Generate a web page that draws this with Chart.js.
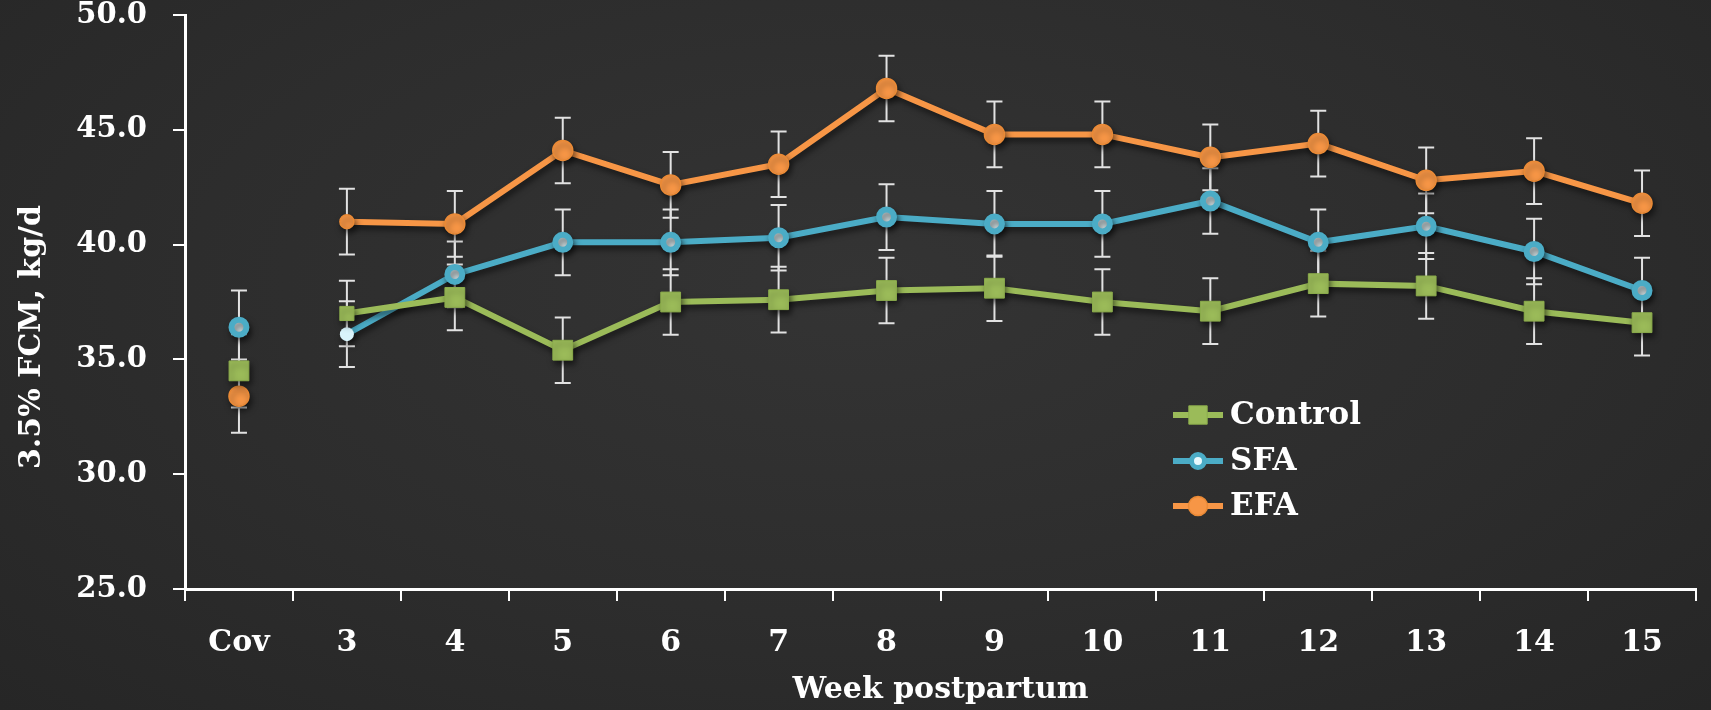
<!DOCTYPE html>
<html>
<head>
<meta charset="utf-8">
<title>3.5% FCM by week postpartum</title>
<script src="https://cdn.jsdelivr.net/npm/chart.js@4.4.1/dist/chart.umd.min.js"></script>
<style>
    html, body { margin: 0; padding: 0; }
    body {
        width: 1711px;
        height: 710px;
        overflow: hidden;
        background: radial-gradient(ellipse at 50% 40%, #343434 0%, #2d2d2d 55%, #262626 100%);
    }
    #wrap { position: relative; width: 1711px; height: 710px; }
</style>
</head>
<body>
<div id="wrap"><canvas id="fcmChart" width="1711" height="710"></canvas></div>
<script>
// ==================== Data ====================
const weeks = ['Cov', '3', '4', '5', '6', '7', '8', '9', '10', '11', '12', '13', '14', '15'];

const controlValues = [34.5, 37.0, 37.7, 35.4, 37.5, 37.6, 38.0, 38.1, 37.5, 37.1, 38.3, 38.2, 37.1, 36.6];
const sfaValues     = [36.4, 36.1, 38.7, 40.1, 40.1, 40.3, 41.2, 40.9, 40.9, 41.9, 40.1, 40.8, 39.7, 38.0];
const efaValues     = [33.4, 41.0, 40.9, 44.1, 42.6, 43.5, 46.8, 44.8, 44.8, 43.8, 44.4, 42.8, 43.2, 41.8];

// standard errors (whiskers)
const controlSem = [1.6, 1.43, 1.43, 1.43, 1.43, 1.43, 1.43, 1.43, 1.43, 1.43, 1.43, 1.43, 1.43, 1.43];
const sfaSem     = [1.6, 1.43, 1.43, 1.43, 1.43, 1.43, 1.43, 1.43, 1.43, 1.43, 1.43, 1.43, 1.43, 1.43];
const efaSem     = [1.6, 1.43, 1.43, 1.43, 1.43, 1.43, 1.43, 1.43, 1.43, 1.43, 1.43, 1.43, 1.43, 1.43];

const yTicks = { min: 25, max: 50, step: 5 };
const yTitle = '3.5% FCM, kg/d';
const xTitle = 'Week postpartum';

// ==================== Styling ====================
const FONT = "'DejaVu Serif', 'Liberation Serif', serif";
const GREEN = '#9bbb59';
const BLUE = '#4bacc6';
const ORANGE = '#f79646';

// Cov is a separate covariate point, so no line joins it to week 3
const hideCovSegment = {
    borderColor: c => (c.p0DataIndex === 0 ? 'rgba(0,0,0,0)' : undefined)
};

// ==================== Plugins ====================
const errorBarPlugin = {
    id: 'errorBars',
    beforeDatasetsDraw(chart) {
        const { ctx } = chart;
        const y = chart.scales.y;
        ctx.save();
        ctx.strokeStyle = '#e2e2e2';
        ctx.lineWidth = 2;
        chart.data.datasets.forEach((ds, i) => {
            const meta = chart.getDatasetMeta(i);
            meta.data.forEach((pt, j) => {
                const v = ds.data[j];
                const e = ds.errors[j];
                const top = y.getPixelForValue(v + e);
                const bot = y.getPixelForValue(v - e);
                ctx.beginPath();
                ctx.moveTo(pt.x, top);
                ctx.lineTo(pt.x, bot);
                ctx.moveTo(pt.x - 8, top);
                ctx.lineTo(pt.x + 8, top);
                ctx.moveTo(pt.x - 8, bot);
                ctx.lineTo(pt.x + 8, bot);
                ctx.stroke();
            });
        });
        ctx.restore();
    }
};

const shadowPlugin = {
    id: 'lineShadow',
    beforeDatasetDraw(chart) {
        const ctx = chart.ctx;
        ctx.save();
        ctx.shadowColor = 'rgba(0, 0, 0, 0.55)';
        ctx.shadowBlur = 6;
        ctx.shadowOffsetX = 2;
        ctx.shadowOffsetY = 4;
    },
    afterDatasetDraw(chart) {
        chart.ctx.restore();
    }
};

// y title sits a little below the middle of the axis in the original
const yTitlePlugin = {
    id: 'yTitle',
    afterDraw(chart) {
        const ctx = chart.ctx;
        ctx.save();
        ctx.translate(32, 337);
        ctx.rotate(-Math.PI / 2);
        ctx.fillStyle = '#ffffff';
        ctx.font = `bold 30px ${FONT}`;
        ctx.textAlign = 'center';
        ctx.textBaseline = 'middle';
        ctx.fillText(yTitle, 0, 0);
        ctx.restore();
    }
};

const legendPlugin = {
    id: 'innerLegend',
    afterDraw(chart) {
        const ctx = chart.ctx;
        const x0 = 1173, x1 = 1223, xm = 1198, xt = 1230;
        const rows = [415, 461, 506];
        ctx.save();
        chart.data.datasets.forEach((ds, i) => {
            const yy = rows[i];
            ctx.strokeStyle = ds.borderColor;
            ctx.lineWidth = 6;
            ctx.beginPath();
            ctx.moveTo(x0, yy);
            ctx.lineTo(x1, yy);
            ctx.stroke();

            ctx.fillStyle = ds.legendFill;
            ctx.strokeStyle = ds.legendStroke;
            ctx.lineWidth = ds.legendBorder;
            Chart.helpers.drawPoint(ctx, {
                pointStyle: ds.pointStyle,
                radius: ds.legendRadius,
                rotation: 0,
                borderWidth: ds.legendBorder
            }, xm, yy);

            ctx.fillStyle = '#ffffff';
            ctx.font = `bold 31px ${FONT}`;
            ctx.textAlign = 'left';
            ctx.textBaseline = 'middle';
            ctx.fillText(ds.label, xt, yy + 1);
        });
        ctx.restore();
    }
};

// ==================== Chart ====================
const axisGrid = {
    drawOnChartArea: false,
    drawTicks: true,
    tickLength: 12,
    color: '#ffffff',
    lineWidth: 2
};

const ctx = document.getElementById('fcmChart').getContext('2d');
const fcmChart = new Chart(ctx, {
    type: 'line',
    data: {
        labels: weeks,
        datasets: [
            {
                label: 'Control',
                data: controlValues,
                errors: controlSem,
                borderColor: GREEN,
                borderWidth: 6,
                tension: 0,
                segment: hideCovSegment,
                pointStyle: 'rect',
                pointRadius: c => (c.dataIndex === 1 ? 10 : 14),
                pointBackgroundColor: GREEN,
                pointBorderColor: '#8cad4c',
                pointBorderWidth: 1,
                legendRadius: 13, legendFill: GREEN, legendStroke: '#8cad4c', legendBorder: 1
            },
            {
                label: 'SFA',
                data: sfaValues,
                errors: sfaSem,
                borderColor: BLUE,
                borderWidth: 6,
                tension: 0,
                segment: hideCovSegment,
                pointStyle: 'circle',
                pointRadius: c => (c.dataIndex === 1 ? 7 : 7.5),
                pointBackgroundColor: c => (c.dataIndex === 1 ? '#d9f4fb' : '#e9f9fd'),
                pointBorderColor: c => (c.dataIndex === 1 ? '#d9f4fb' : BLUE),
                pointBorderWidth: c => (c.dataIndex === 1 ? 0 : 6),
                legendRadius: 6.5, legendFill: '#e9f9fd', legendStroke: BLUE, legendBorder: 5
            },
            {
                label: 'EFA',
                data: efaValues,
                errors: efaSem,
                borderColor: ORANGE,
                borderWidth: 6,
                tension: 0,
                segment: hideCovSegment,
                pointStyle: 'circle',
                pointRadius: c => (c.dataIndex === 1 ? 7 : 10),
                pointBackgroundColor: ORANGE,
                pointBorderColor: '#ea8a36',
                pointBorderWidth: 1.5,
                legendRadius: 9.5, legendFill: ORANGE, legendStroke: '#ea8a36', legendBorder: 1.5
            }
        ]
    },
    options: {
        responsive: false,
        animation: false,
        events: [],
        layout: { padding: { top: 14, right: 11, left: 0, bottom: 0 } },
        plugins: {
            legend: { display: false },
            tooltip: { enabled: false }
        },
        scales: {
            x: {
                type: 'category',
                offset: true,
                grid: { ...axisGrid, offset: true },
                border: { color: '#ffffff', width: 3 },
                ticks: {
                    color: '#ffffff',
                    font: { family: FONT, size: 30, weight: 'bold' },
                    padding: 24,
                    maxRotation: 0,
                    autoSkip: false
                },
                title: {
                    display: true,
                    text: xTitle,
                    color: '#ffffff',
                    font: { family: FONT, size: 30, weight: 'bold' },
                    padding: { top: 0, bottom: 2 }
                },
                afterFit(scale) {
                    scale.height = 121;
                    scale.paddingLeft = 0;
                    scale.paddingRight = 0;
                }
            },
            y: {
                min: yTicks.min,
                max: yTicks.max,
                grid: axisGrid,
                border: { color: '#ffffff', width: 3 },
                ticks: {
                    stepSize: yTicks.step,
                    color: '#ffffff',
                    font: { family: FONT, size: 29, weight: 'bold' },
                    padding: 26,
                    callback: v => v.toFixed(1)
                },
                afterFit(scale) {
                    scale.width = 185;
                    scale.paddingTop = 0;
                    scale.paddingBottom = 0;
                }
            }
        }
    },
    plugins: [errorBarPlugin, shadowPlugin, yTitlePlugin, legendPlugin]
});
</script>
</body>
</html>
